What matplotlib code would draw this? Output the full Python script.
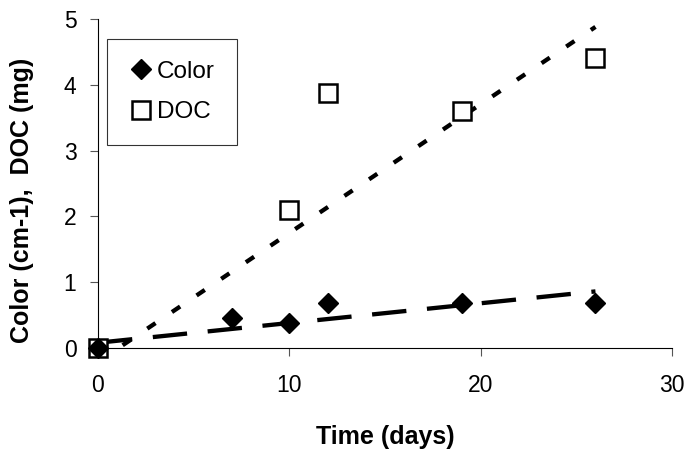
import matplotlib
matplotlib.use("Agg")
import matplotlib.pyplot as plt
from matplotlib.lines import Line2D

plt.rcParams['font.family'] = ['Liberation Sans', 'DejaVu Sans']

# measurements
days_color = [0, 7, 10, 12, 19, 26]
color_vals = [0.0, 0.45, 0.38, 0.68, 0.68, 0.68]
days_doc = [0, 10, 12, 19, 26]
doc_vals = [0.0, 2.1, 3.87, 3.6, 4.4]

# linear trendlines (end points)
trend_x = [0, 26]
color_trend = [0.08, 0.86]
doc_trend = [-0.21, 4.88]

fig = plt.figure(figsize=(6.87, 4.53), dpi=100)
ax = fig.add_axes([98/687, 1 - 348/453, 574/687, 329/453])

lw = 3.1
ax.plot(trend_x, doc_trend, color='black', lw=lw, dashes=(2.3, 4.6), zorder=2)
ax.plot(trend_x, color_trend, color='black', lw=lw, dashes=(8.0, 4.8), zorder=2)

ax.plot(days_doc, doc_vals, ls='none', marker='s', ms=12.5, mfc='white',
        mec='black', mew=1.8, clip_on=False, zorder=3)
ax.plot(days_color, color_vals, ls='none', marker='D', ms=10, mfc='black',
        mec='black', clip_on=False, zorder=4)

ax.set_xlim(0, 30)
ax.set_ylim(0, 5)
ax.set_xticks([0, 10, 20, 30])
ax.set_yticks([0, 1, 2, 3, 4, 5])

for side in ['top', 'right']:
    ax.spines[side].set_visible(False)
for side in ['left', 'bottom']:
    ax.spines[side].set_linewidth(0.8)
    ax.spines[side].set_color('black')
ax.tick_params(direction='out', length=6, width=0.8, color='#555555',
               labelsize=16.5)
ax.tick_params(axis='x', pad=13)
ax.tick_params(axis='y', pad=9.5)

ax.set_xlabel('Time (days)', fontsize=18, fontweight='bold', labelpad=20)
fig.text(22/687, 1 - 200/453, 'Color (cm-1),  DOC (mg)', rotation=90,
         fontsize=18, fontweight='bold', ha='center', va='center')

handles = [
    Line2D([], [], ls='none', marker='D', ms=10, mfc='black', mec='black'),
    Line2D([], [], ls='none', marker='s', ms=12.5, mfc='white', mec='black', mew=1.8),
]
leg = ax.legend(handles, ['Color', 'DOC'], loc='upper left',
                bbox_to_anchor=(0.0157, 0.939), borderaxespad=0,
                fontsize=17.5, frameon=True, fancybox=False, handlelength=1.0,
                handletextpad=0.15, labelspacing=0.75, borderpad=0.9)
leg.get_frame().set_edgecolor('black')
leg.get_frame().set_linewidth(0.8)

fig.savefig('out.png', dpi=100)
